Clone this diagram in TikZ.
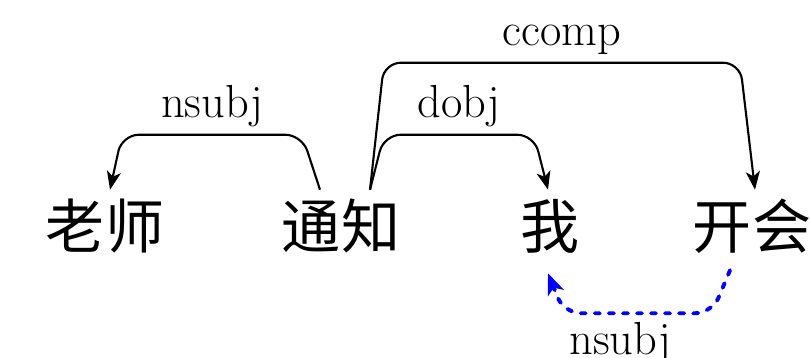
\documentclass[tikz,border=0pt]{standalone}
\usepackage{fontspec}
\newfontfamily\cjk{Noto Sans CJK SC}
\usetikzlibrary{positioning, arrows.meta}

\begin{document}
\begin{tikzpicture}[
    word/.style={
        inner sep=0pt,
        text height=1.46cm, text depth=0.34cm,
        font=\cjk\fontsize{42}{50}\selectfont
    },
    deplabel/.style={
        inner sep=5pt, text=black,
        font=\fontsize{33}{40}\selectfont
    },
    dep/.style={
        -{Stealth[length=13pt, width=10pt, inset=3.5pt]},
        line width=1.5pt, rounded corners=12pt
    },
    extradep/.style={
        dep, blue, line width=2.8pt, line cap=round,
        dash pattern=on 3.5pt off 6.5pt,
        -{Stealth[length=15pt, width=12pt, inset=4pt]}
    }
]

\useasboundingbox (0,0) rectangle (20.25,8.95);

\node[word] (laoshi) at (2.625,3.3) {老师};
\node[word, on grid, right=5.9cm of laoshi] (tongzhi) {通知};
\node[word, on grid, right=5.225cm of tongzhi] (wo) {我};
\node[word, on grid, right=5.05cm of wo] (kaihui) {开会};

% arcs above the words
\draw[dep] ([xshift=-0.525cm]tongzhi.north) -- ++(-0.45,1.375)
    -- node[deplabel, above] {nsubj} ([xshift=0.425cm, yshift=1.375cm]laoshi.north)
    -- ([xshift=0.125cm]laoshi.north);
\draw[dep] ([xshift=0.725cm]tongzhi.north) -- ++(0.35,1.375)
    -- node[deplabel, above] {dobj} ([xshift=-0.4cm, yshift=1.375cm]wo.north)
    -- ([xshift=-0.05cm]wo.north);
\draw[dep] ([xshift=0.725cm]tongzhi.north) -- ++(0.35,3.175)
    -- node[deplabel, above] {ccomp} ([xshift=-0.3cm, yshift=3.175cm]kaihui.north)
    -- ([xshift=0.075cm]kaihui.north);

% arc below the words
\draw[extradep] ([xshift=-0.55cm, yshift=-0.2cm]kaihui.south) -- ++(-0.45,-1.075)
    -- node[deplabel, below, pos=0.62] {nsubj} ([xshift=0.35cm, yshift=-1.275cm]wo.south)
    -- ([xshift=-0.05cm, yshift=-0.275cm]wo.south);

\end{tikzpicture}
\end{document}
